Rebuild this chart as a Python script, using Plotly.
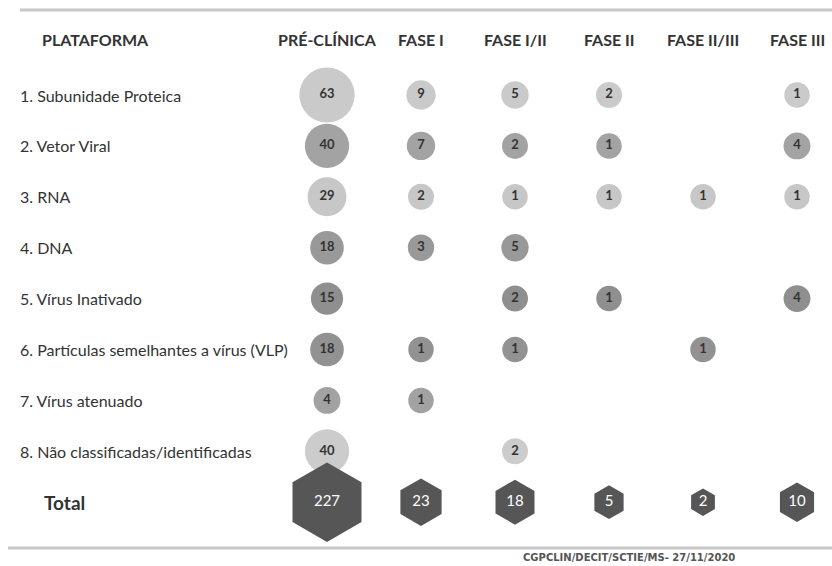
import plotly.graph_objects as go

# ---------------- data ----------------
phases = ["PRÉ-CLÍNICA", "FASE I", "FASE I/II", "FASE II", "FASE II/III", "FASE III"]
platforms = [
    "1. Subunidade Proteica",
    "2. Vetor Viral",
    "3. RNA",
    "4. DNA",
    "5. Vírus Inativado",
    "6. Partículas semelhantes a vírus (VLP)",
    "7. Vírus atenuado",
    "8. Não classificadas/identificadas",
]
subunidade = [63, 9, 5, 2, None, 1]
vetor_viral = [40, 7, 2, 1, None, 4]
rna = [29, 2, 1, 1, 1, 1]
dna = [18, 3, 5, None, None, None]
virus_inativado = [15, None, 2, 1, None, 4]
vlp = [18, 1, 1, None, 1, None]
virus_atenuado = [4, 1, None, None, None, None]
nao_classificadas = [40, None, 2, None, None, None]
totals = [227, 23, 18, 5, 2, 10]
total_label = "Total"
header_label = "PLATAFORMA"
footer = "CGPCLIN/DECIT/SCTIE/MS- 27/11/2020"

rows = [subunidade, vetor_viral, rna, dna, virus_inativado, vlp, virus_atenuado, nao_classificadas]

# ---------------- style ----------------
W, H = 832, 566
row_colors = ["#cacaca", "#a3a3a3", "#c7c7c7", "#999999", "#8f8f8f", "#929292", "#a2a2a2", "#cccccc"]
hex_color = "#565656"
FONT = "Lato"
TXT = "#333333"

def circle_size(v):
    return 25 + 0.48 * v

def hex_size(v):
    return 23.5 * v ** 0.225

fig = go.Figure()

for name, vals, col in zip(platforms, rows, row_colors):
    xs = [p for p, v in zip(phases, vals) if v is not None]
    vs = [v for v in vals if v is not None]
    fig.add_trace(go.Scatter(
        x=xs, y=[name] * len(xs), mode="markers+text",
        text=[str(v) for v in vs], textposition="middle center",
        textfont=dict(family=FONT, size=13, color=TXT, weight="bold"),
        marker=dict(symbol="circle", size=[circle_size(v) for v in vs],
                    color=col, opacity=1, line=dict(width=0)),
        hoverinfo="skip", showlegend=False, cliponaxis=False,
    ))

fig.add_trace(go.Scatter(
    x=phases, y=[total_label] * len(phases), mode="markers+text",
    text=[str(v) for v in totals], textposition="middle center",
    textfont=dict(family=FONT, size=15, color="#ffffff"),
    marker=dict(symbol="hexagon", size=[hex_size(v) for v in totals],
                color=hex_color, opacity=1, line=dict(width=0)),
    hoverinfo="skip", showlegend=False, cliponaxis=False,
))

annotations = []
# header
annotations.append(dict(text=header_label, x=40 / W, y=1 - 39 / H, xref="paper", yref="paper",
                        xanchor="left", yanchor="middle", showarrow=False,
                        font=dict(family=FONT, size=16, color=TXT, weight="bold")))
for p in phases:
    annotations.append(dict(text=p, x=p, y=1 - 39 / H, xref="x", yref="paper",
                            xanchor="center", yanchor="middle", showarrow=False,
                            font=dict(family=FONT, size=16, color=TXT, weight="bold")))
# row labels
for name in platforms:
    annotations.append(dict(text=name, x=18 / W, y=name, xref="paper", yref="y",
                            xanchor="left", yanchor="middle", showarrow=False,
                            font=dict(family=FONT, size=16, color=TXT)))
annotations.append(dict(text=total_label, x=42 / W, y=total_label, xref="paper", yref="y",
                        xanchor="left", yanchor="middle", showarrow=False,
                        font=dict(family=FONT, size=19, color=TXT, weight="bold")))
# footer
annotations.append(dict(text=footer, x=629 / W, y=1 - 557 / H, xref="paper", yref="paper",
                        xanchor="center", yanchor="middle", showarrow=False,
                        font=dict(family="DejaVu Sans", size=10, color="#555555", weight="bold")))

shapes = [
    dict(type="line", xref="paper", yref="paper", x0=20 / W, x1=1, y0=1 - 10 / H, y1=1 - 10 / H,
         line=dict(color="#c8c8c8", width=3)),
    dict(type="line", xref="paper", yref="paper", x0=8 / W, x1=1, y0=1 - 548 / H, y1=1 - 548 / H,
         line=dict(color="#c8c8c8", width=3)),
]

col_step = 94.0
row_step = 50.9
x0 = -327 / col_step
y_top = -95 / row_step

fig.update_layout(
    width=W, height=H, margin=dict(l=0, r=0, t=0, b=0),
    paper_bgcolor="white", plot_bgcolor="white",
    xaxis=dict(type="category", categoryorder="array", categoryarray=phases,
               range=[x0, x0 + W / col_step], visible=False, fixedrange=True),
    yaxis=dict(type="category", categoryorder="array", categoryarray=platforms + [total_label],
               range=[y_top + H / row_step, y_top], visible=False, fixedrange=True),
    annotations=annotations, shapes=shapes, showlegend=False,
)

fig.write_html("out.html")
